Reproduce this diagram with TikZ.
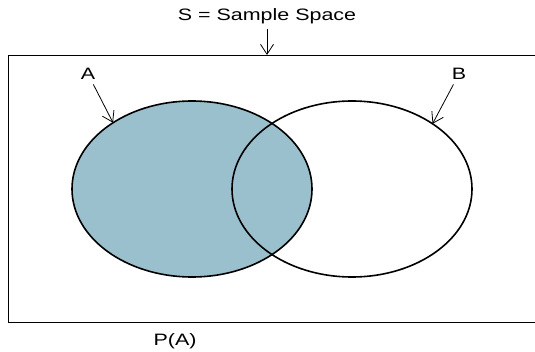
\documentclass[tikz,border=0pt]{standalone}
\usepackage{fontspec}
\setmainfont{Liberation Sans}[FakeStretch=1.3]
\usetikzlibrary{shapes.geometric,arrows.meta}
\definecolor{setfill}{HTML}{9AC0CD}
\begin{document}
\begin{tikzpicture}[x=1pt,y=-1pt,
  lbl/.style={font=\fontsize{16.5}{19}\selectfont, inner sep=1pt},
  setshape/.style={ellipse, minimum width=240pt, minimum height=176pt, inner sep=0pt, outer sep=0pt, line width=1.6pt},
  pointer/.style={-{Straight Barb[length=10pt,width=13pt]}, line width=0.8pt, shorten <=4pt}]
\useasboundingbox (0,0) rectangle (535,352);
\clip (0,0) rectangle (535,352);
% sample space
\draw[line width=0.9pt] (545,55) -- (8,55) -- (8,322) -- (545,322);
% sets
\node[setshape, fill=setfill] (EA) at (192,189) {};
\node[setshape, draw] (EB) at (352,189) {};
\node[setshape, draw] at (EA) {};
% labels
\node[lbl] (S) at (267,16) {S = Sample Space};
\coordinate (top) at (267,55);
\node[lbl] (la) at (88,74) {A};
\node[lbl] (lb) at (459,74) {B};
\node[lbl] (pa) at (175,341) {P(A)};
% pointers
\draw[pointer] (S) -- (top);
\draw[pointer] (la) -- (EA.140);
\draw[pointer] (lb) -- (EB.39.5);
\end{tikzpicture}
\end{document}
